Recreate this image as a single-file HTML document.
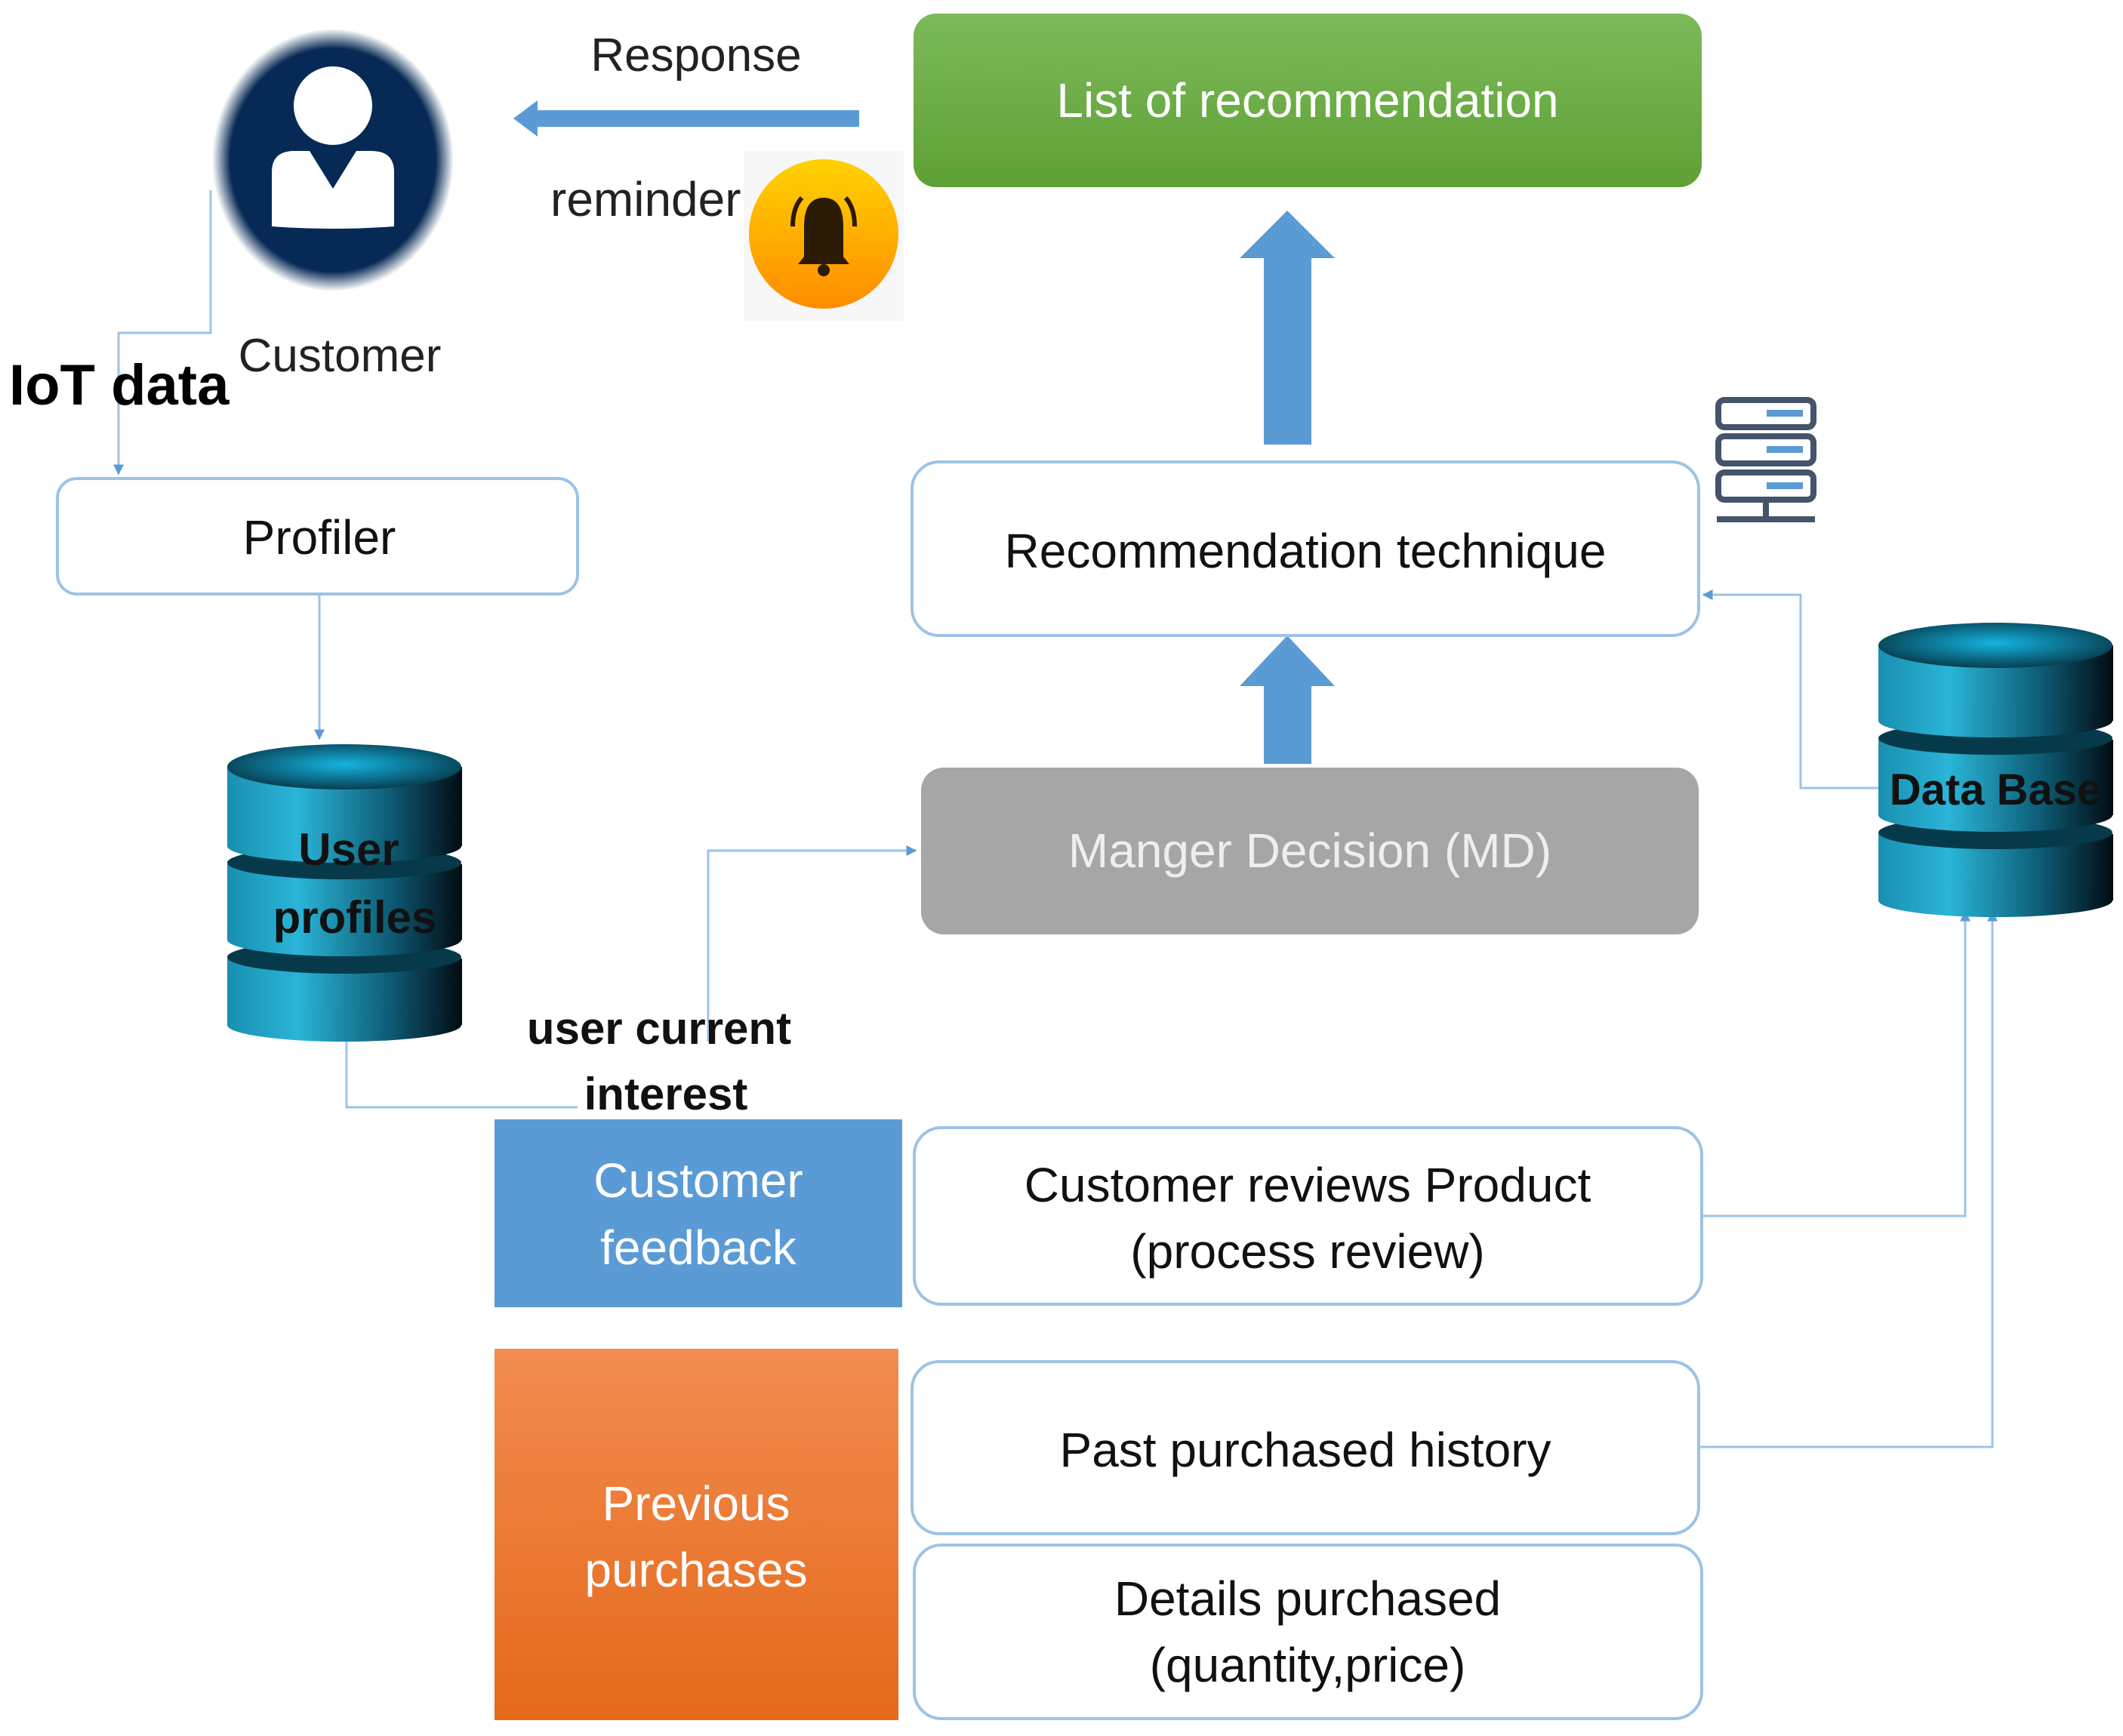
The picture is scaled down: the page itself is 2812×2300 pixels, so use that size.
<!DOCTYPE html>
<html><head><meta charset="utf-8"><style>
html,body{margin:0;padding:0;background:#fff}
svg{display:block}
text{font-family:"Liberation Sans",sans-serif}
</style></head><body>
<svg width="2812" height="2300" viewBox="0 0 2812 2300" xmlns="http://www.w3.org/2000/svg">
<defs>
<radialGradient id="cust" cx="50%" cy="50%" r="50%">
<stop offset="85%" stop-color="#062a55"/><stop offset="100%" stop-color="#062a55" stop-opacity="0"/>
</radialGradient>
<linearGradient id="bell" x1="0" y1="0" x2="0" y2="1"><stop offset="0" stop-color="#ffd200"/><stop offset="1" stop-color="#ff8c00"/></linearGradient>
<linearGradient id="green" x1="0" y1="0" x2="0" y2="1"><stop offset="0" stop-color="#7cba5a"/><stop offset="1" stop-color="#5fa035"/></linearGradient>
<linearGradient id="orange" x1="0" y1="0" x2="0" y2="1"><stop offset="0" stop-color="#f28c50"/><stop offset="1" stop-color="#e5691a"/></linearGradient>
<linearGradient id="cyl" x1="0" y1="0" x2="1" y2="0"><stop offset="0" stop-color="#1a8fb0"/><stop offset="0.3" stop-color="#2ab5d8"/><stop offset="0.7" stop-color="#0d5a73"/><stop offset="1" stop-color="#020c12"/></linearGradient>
<radialGradient id="cyltop" cx="50%" cy="45%" r="60%"><stop offset="0" stop-color="#14b4e0"/><stop offset="1" stop-color="#063444"/></radialGradient>
<marker id="ah" viewBox="0 0 10 10" refX="9" refY="5" markerWidth="14" markerHeight="14" markerUnits="userSpaceOnUse" orient="auto"><path d="M0,0 L10,5 L0,10 z" fill="#5b9bd5"/></marker>
</defs>

<g fill="none" stroke="#9dc3e6" stroke-width="3">
<polyline points="279,252 279,441 157,441 157,628" marker-end="url(#ah)"/>
<polyline points="423,787 423,979" marker-end="url(#ah)"/>
<polyline points="459,1363 459,1467 765,1467"/>
<polyline points="938,1380 938,1127 1213,1127" marker-end="url(#ah)"/>
<polyline points="2488,1044 2385,1044 2385,788 2256,788" marker-end="url(#ah)"/>
<polyline points="2254,1611 2603,1611 2603,1208" marker-end="url(#ah)"/>
<polyline points="2250,1917 2639,1917 2639,1208" marker-end="url(#ah)"/>
</g>

<ellipse cx="441" cy="212" rx="160" ry="174" fill="url(#cust)"/>
<circle cx="441" cy="140" r="52" fill="#fff"/>
<path d="M360,300 L360,228 Q360,200 390,200 L410,200 L441,250 L472,200 L492,200 Q522,200 522,228 L522,300 Q441,306 360,300 z" fill="#fff"/>
<text x="450" y="492" font-size="62" text-anchor="middle" fill="#222">Customer</text>
<text x="12" y="536" font-size="76" font-weight="bold" fill="#000">IoT data</text>

<text x="922" y="94" font-size="62" text-anchor="middle" fill="#222">Response</text>
<polygon points="680,157 712,133 712,146 1138,146 1138,168 712,168 712,181" fill="#5b9bd5"/>
<text x="729" y="286" font-size="64" fill="#222">reminder</text>
<rect x="985" y="200" width="212" height="225" fill="#f7f7f7"/>
<circle cx="1091" cy="310" r="99" fill="url(#bell)"/>
<path d="M1065,340 L1065,300 Q1065,262 1091,262 Q1117,262 1117,300 L1117,340 L1125,350 L1057,350 z" fill="#2b1a05"/>
<circle cx="1091" cy="358" r="8" fill="#2b1a05"/>
<path d="M1050,300 Q1050,275 1062,262 M1132,300 Q1132,275 1120,262" stroke="#2b1a05" stroke-width="6" fill="none"/>

<rect x="1210" y="18" width="1044" height="230" rx="30" fill="url(#green)"/>
<text x="1732" y="155" font-size="64" text-anchor="middle" fill="#fff">List of recommendation</text>

<polygon points="1705,279 1768,342 1737,342 1737,589 1674,589 1674,342 1642,342" fill="#5b9bd5"/>
<polygon points="1705,842 1768,909 1737,909 1737,1012 1674,1012 1674,909 1642,909" fill="#5b9bd5"/>

<rect x="1208" y="612" width="1042" height="230" rx="36" fill="#fff" stroke="#9dc3e6" stroke-width="4"/>
<text x="1729" y="752" font-size="64" text-anchor="middle" fill="#111">Recommendation technique</text>

<g fill="none" stroke="#44546a" stroke-width="8">
<rect x="2276" y="530" width="126" height="36" rx="8"/>
<rect x="2276" y="578" width="126" height="36" rx="8"/>
<rect x="2276" y="626" width="126" height="36" rx="8"/>
<line x1="2339" y1="662" x2="2339" y2="688"/>
<line x1="2274" y1="688" x2="2404" y2="688"/>
</g>
<g fill="#5b9bd5"><rect x="2340" y="543" width="48" height="9"/><rect x="2340" y="591" width="48" height="9"/><rect x="2340" y="639" width="48" height="9"/></g>

<rect x="1220" y="1017" width="1030" height="221" rx="30" fill="#a6a6a6"/>
<text x="1735" y="1149" font-size="64" text-anchor="middle" fill="#eeeeee">Manger Decision (MD)</text>

<rect x="76" y="634" width="689" height="153" rx="26" fill="#fff" stroke="#9dc3e6" stroke-width="4"/>
<text x="423" y="734" font-size="64" text-anchor="middle" fill="#111">Profiler</text>

<g>
<rect x="301" y="1270" width="311" height="88" fill="url(#cyl)"/>
<ellipse cx="456" cy="1358" rx="155" ry="22" fill="url(#cyl)"/>
<ellipse cx="456" cy="1268" rx="155" ry="22" fill="#063a4a"/>
<rect x="301" y="1145" width="311" height="100" fill="url(#cyl)"/>
<ellipse cx="456" cy="1245" rx="155" ry="22" fill="url(#cyl)"/>
<ellipse cx="456" cy="1143" rx="155" ry="22" fill="#063a4a"/>
<rect x="301" y="1016" width="311" height="105" fill="url(#cyl)"/>
<ellipse cx="456" cy="1121" rx="155" ry="22" fill="url(#cyl)"/>
<ellipse cx="456" cy="1016" rx="155" ry="30" fill="url(#cyltop)"/>
</g>
<text x="462" y="1146" font-size="60" font-weight="bold" text-anchor="middle" fill="#111">User</text>
<text x="470" y="1236" font-size="60" font-weight="bold" text-anchor="middle" fill="#111">profiles</text>

<g>
<rect x="2488" y="1105" width="311" height="88" fill="url(#cyl)"/>
<ellipse cx="2643" cy="1193" rx="155" ry="22" fill="url(#cyl)"/>
<ellipse cx="2643" cy="1103" rx="155" ry="22" fill="#063a4a"/>
<rect x="2488" y="980" width="311" height="100" fill="url(#cyl)"/>
<ellipse cx="2643" cy="1080" rx="155" ry="22" fill="url(#cyl)"/>
<ellipse cx="2643" cy="978" rx="155" ry="22" fill="#063a4a"/>
<rect x="2488" y="855" width="311" height="100" fill="url(#cyl)"/>
<ellipse cx="2643" cy="955" rx="155" ry="22" fill="url(#cyl)"/>
<ellipse cx="2643" cy="855" rx="155" ry="30" fill="url(#cyltop)"/>
</g>
<text x="2643" y="1066" font-size="58" font-weight="bold" text-anchor="middle" fill="#111">Data Base</text>

<text x="873" y="1383" font-size="60" font-weight="bold" text-anchor="middle" fill="#111">user current</text>
<text x="882" y="1470" font-size="60" font-weight="bold" text-anchor="middle" fill="#111">interest</text>

<rect x="655" y="1483" width="540" height="249" fill="#5b9bd5"/>
<text x="925" y="1586" font-size="64" text-anchor="middle" fill="#fff">Customer</text>
<text x="925" y="1675" font-size="64" text-anchor="middle" fill="#fff">feedback</text>
<rect x="1211" y="1494" width="1043" height="234" rx="36" fill="#fff" stroke="#9dc3e6" stroke-width="4"/>
<text x="1732" y="1592" font-size="64" text-anchor="middle" fill="#111">Customer reviews Product</text>
<text x="1732" y="1680" font-size="64" text-anchor="middle" fill="#111">(process review)</text>

<rect x="655" y="1787" width="535" height="492" fill="url(#orange)"/>
<text x="922" y="2014" font-size="64" text-anchor="middle" fill="#fff">Previous</text>
<text x="922" y="2102" font-size="64" text-anchor="middle" fill="#fff">purchases</text>

<rect x="1208" y="1804" width="1042" height="228" rx="36" fill="#fff" stroke="#9dc3e6" stroke-width="4"/>
<text x="1729" y="1943" font-size="64" text-anchor="middle" fill="#111">Past purchased history</text>
<rect x="1211" y="2047" width="1043" height="230" rx="36" fill="#fff" stroke="#9dc3e6" stroke-width="4"/>
<text x="1732" y="2140" font-size="64" text-anchor="middle" fill="#111">Details purchased</text>
<text x="1732" y="2228" font-size="64" text-anchor="middle" fill="#111">(quantity,price)</text>
</svg>
</body></html>
